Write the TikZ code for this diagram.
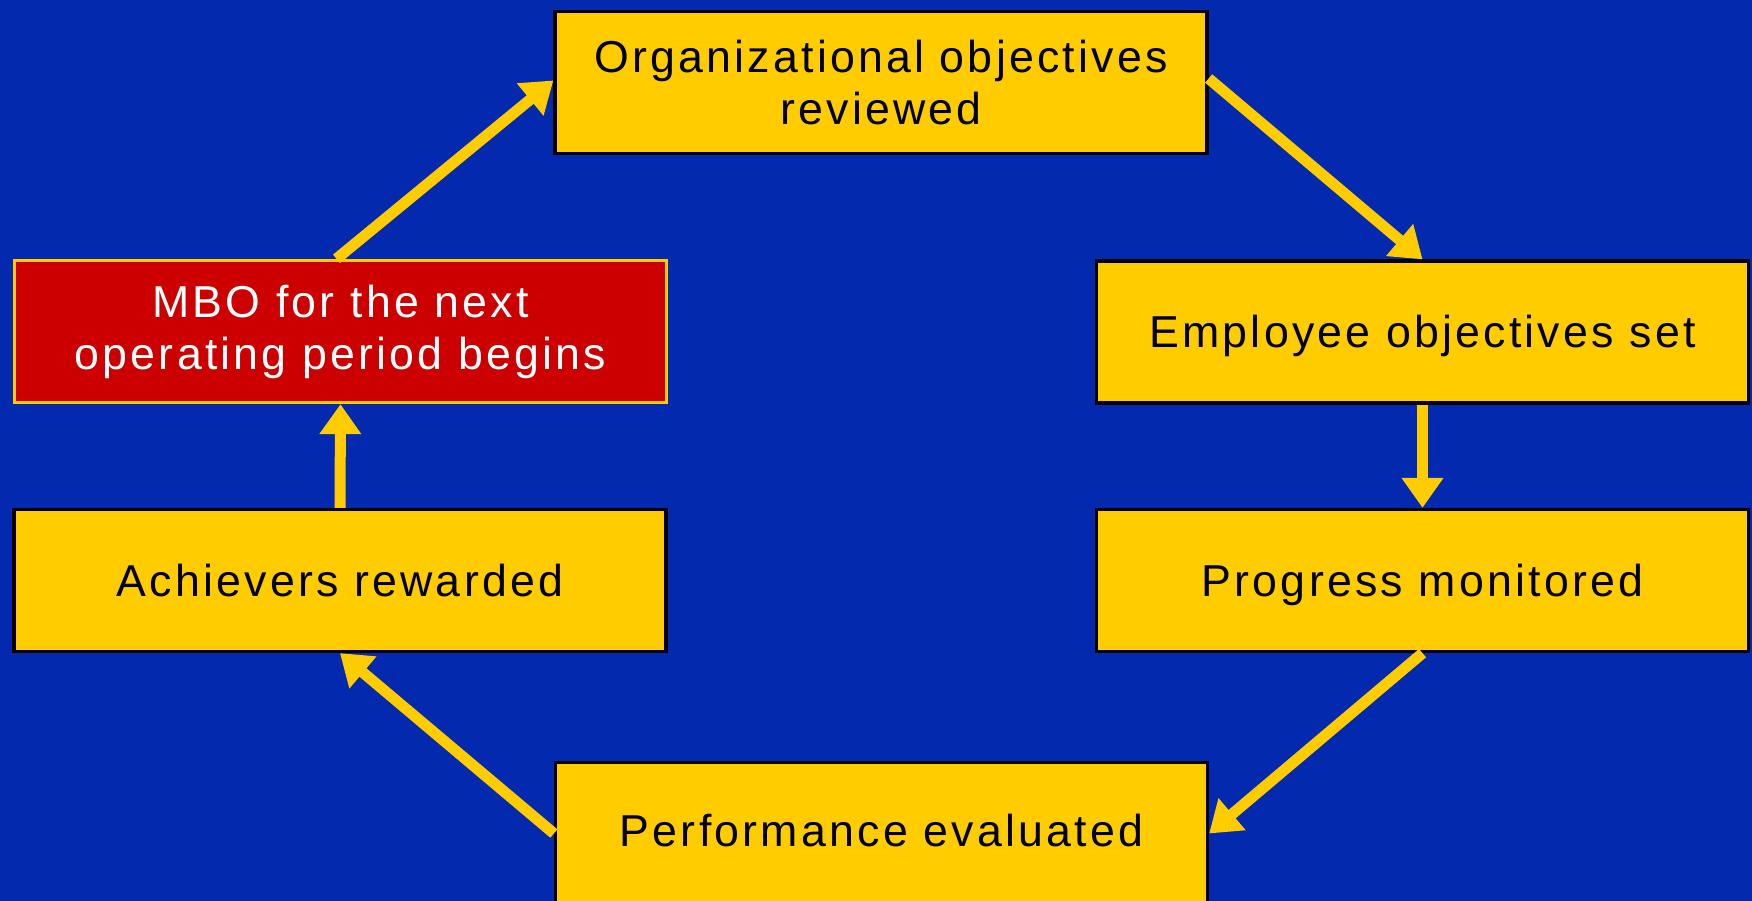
\documentclass[tikz,border=0pt]{standalone}
\usepackage{fontspec}
\setmainfont{Liberation Sans}[LetterSpace=7.2]
\usetikzlibrary{arrows.meta}
\definecolor{bgblue}{RGB}{2,41,174}
\definecolor{boxyellow}{RGB}{255,204,0}
\definecolor{boxred}{RGB}{204,0,0}
\newcommand{\mvtext}[2]{\raisebox{#1}[\height][\depth]{#2}}
\begin{document}
\begin{tikzpicture}[x=1pt,y=-1pt,
  stepbox/.style={draw=black,line width=3.3pt,fill=boxyellow,minimum width=652pt,minimum height=142pt,
    inner sep=0pt,align=center,text=black,font=\fontsize{44.7}{52}\selectfont},
  redbox/.style={stepbox,draw=boxyellow,fill=boxred,text=white},
  flow/.style={draw=boxyellow,line width=11pt,-{Triangle[width=40pt,length=30pt]}}]
\fill[bgblue] (0,0) rectangle (1752,901);
\useasboundingbox (0,0) rectangle (1752,901);
\node[stepbox] (org) at (881,82.5) {Organizational objectives\\reviewed};
\node[stepbox] (emp) at (1422.5,332) {\mvtext{-4pt}{Employee objectives set}};
\node[stepbox] (prog) at (1422.5,580.5) {\mvtext{-4pt}{Progress monitored}};
\node[stepbox] (perf) at (881.5,833.5) {\mvtext{3pt}{Performance evaluated}};
\node[stepbox] (ach) at (340,580.5) {Achievers rewarded};
\node[redbox] (mbo) at (340.5,331.5) {MBO for the next\\operating period begins};
\draw[flow] ([yshift=4pt]org.east) -- (emp.north);
\draw[flow] (emp.south) -- (prog.north);
\draw[flow] (prog.south) -- (perf.east);
\draw[flow] (perf.west) -- (ach.south);
\draw[flow] (ach.north) -- (mbo.south);
\draw[flow] ([xshift=-4pt]mbo.north) -- ([yshift=2pt]org.west);
\end{tikzpicture}
\end{document}
